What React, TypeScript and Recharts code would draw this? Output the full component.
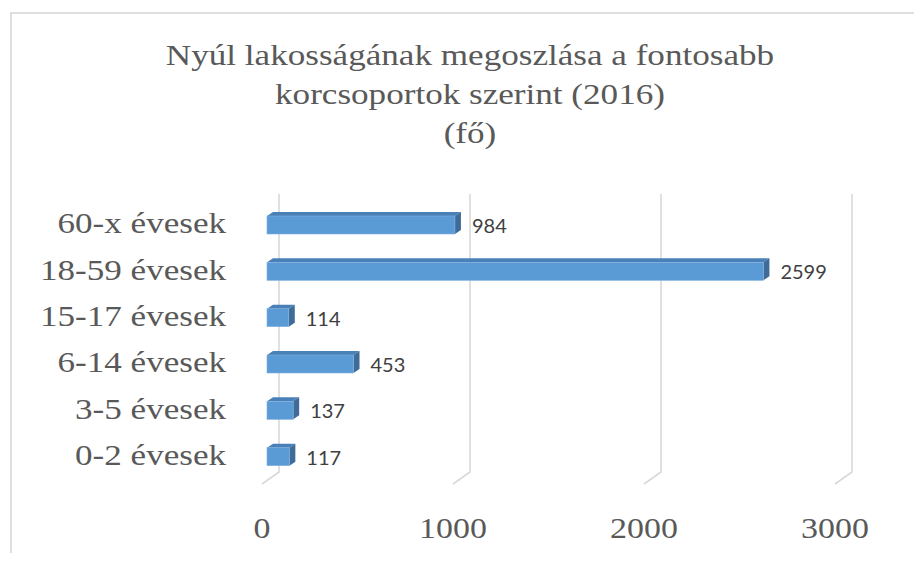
import { BarChart, Bar, XAxis, YAxis, CartesianGrid, LabelList } from "recharts";

// age groups, top to bottom as in the picture
const ageGroups = [
  "60-x évesek",
  "18-59 évesek",
  "15-17 évesek",
  "6-14 évesek",
  "3-5 évesek",
  "0-2 évesek",
];
const population = [984, 2599, 114, 453, 137, 117];
const xTicks = [0, 1000, 2000, 3000];
const titleLines = [
  "Nyúl lakosságának megoszlása a fontosabb",
  "korcsoportok szerint (2016)",
  "(fő)",
];

const data = ageGroups.map((group, i) => ({ group, value: population[i] }));

const SERIF = "'Liberation Serif', 'Times New Roman', serif";
const STRETCH = 1.17; // original text looks horizontally stretched
const TEXT_GRAY = "#595959";

const DEPTH_X = 6;
const DEPTH_Y = 4;

const Bar3D = (props: any) => {
  const { x, y, width, height } = props;
  if (width == null || height == null) return null;
  const w = Math.max(width, 0);
  return (
    <g>
      <polygon
        points={`${x},${y + DEPTH_Y} ${x + DEPTH_X},${y} ${x + w + DEPTH_X},${y} ${x + w},${y + DEPTH_Y}`}
        fill="#4A80B8"
      />
      <polygon
        points={`${x + w},${y + DEPTH_Y} ${x + w + DEPTH_X},${y} ${x + w + DEPTH_X},${y + height - DEPTH_Y} ${x + w},${y + height}`}
        fill="#3E6B97"
      />
      <rect x={x} y={y + DEPTH_Y} width={w} height={height - DEPTH_Y} fill="#5B9BD5" stroke="#7FB0DF" strokeWidth={0.6} />
    </g>
  );
};

const GridLine = (props: any) => {
  const { x1, y1, y2 } = props;
  return (
    <path
      key={props.key ?? `g-${x1}`}
      d={`M${x1 + 12},${y1 - 6} V${y2 - 6} L${x1 - 5},${y2 + 6}`}
      stroke="#D9D9D9"
      strokeWidth={1.6}
      fill="none"
    />
  );
};

const XTick = (props: any) => {
  const { x, y, payload } = props;
  return (
    <text
      transform={`translate(${x - 5},${y + 60}) scale(${STRETCH},1)`}
      textAnchor="middle"
      fontFamily={SERIF}
      fontSize={29}
      fill={TEXT_GRAY}
    >
      {payload.value}
    </text>
  );
};

const YTick = (props: any) => {
  const { x, y, payload } = props;
  return (
    <text
      transform={`translate(${x - 41},${y + 10}) scale(${STRETCH},1)`}
      textAnchor="end"
      fontFamily={SERIF}
      fontSize={30}
      fill={TEXT_GRAY}
    >
      {payload.value}
    </text>
  );
};

const ValueLabel = (props: any) => {
  const { x, y, width, height, value } = props;
  return (
    <text
      x={x + width + 17}
      y={y + height / 2 + 2}
      dominantBaseline="central"
      fontFamily="Lato, 'Open Sans', sans-serif"
      fontSize={20}
      fill="#404040"
    >
      {value}
    </text>
  );
};

export default function App() {
  return (
    <div
      style={{
        position: "relative",
        width: 922,
        height: 561,
        margin: -8,
        overflow: "hidden",
        background: "#fff",
      }}
    >
      <div
        style={{
          position: "absolute",
          left: 10,
          top: 12,
          width: 960,
          height: 620,
          border: "2px solid #DEDEDE",
        }}
      />
      <div
        style={{
          position: "absolute",
          left: 0,
          top: 35,
          width: 940,
          textAlign: "center",
          fontFamily: SERIF,
          fontSize: 30,
          lineHeight: "39px",
          color: TEXT_GRAY,
          transform: `scaleX(${STRETCH})`,
          transformOrigin: "470px 0",
          whiteSpace: "nowrap",
        }}
      >
        {titleLines.map((line) => (
          <div key={line}>{line}</div>
        ))}
      </div>
      <div style={{ position: "absolute", left: 0, top: 0 }}>
        <BarChart
          layout="vertical"
          width={922}
          height={561}
          data={data}
          margin={{ top: 200, right: 82, bottom: 35, left: 0 }}
          barSize={22}
        >
          <CartesianGrid horizontal={false} vertical={GridLine} />
          <XAxis
            type="number"
            domain={[0, 3000]}
            ticks={xTicks}
            axisLine={false}
            tickLine={false}
            tickSize={0}
            tickMargin={0}
            height={48}
            tick={XTick}
          />
          <YAxis
            type="category"
            dataKey="group"
            width={267}
            axisLine={false}
            tickLine={false}
            tickSize={0}
            tickMargin={0}
            tick={YTick}
          />
          <Bar dataKey="value" shape={Bar3D} isAnimationActive={false}>
            <LabelList dataKey="value" content={ValueLabel} />
          </Bar>
        </BarChart>
      </div>
    </div>
  );
}
